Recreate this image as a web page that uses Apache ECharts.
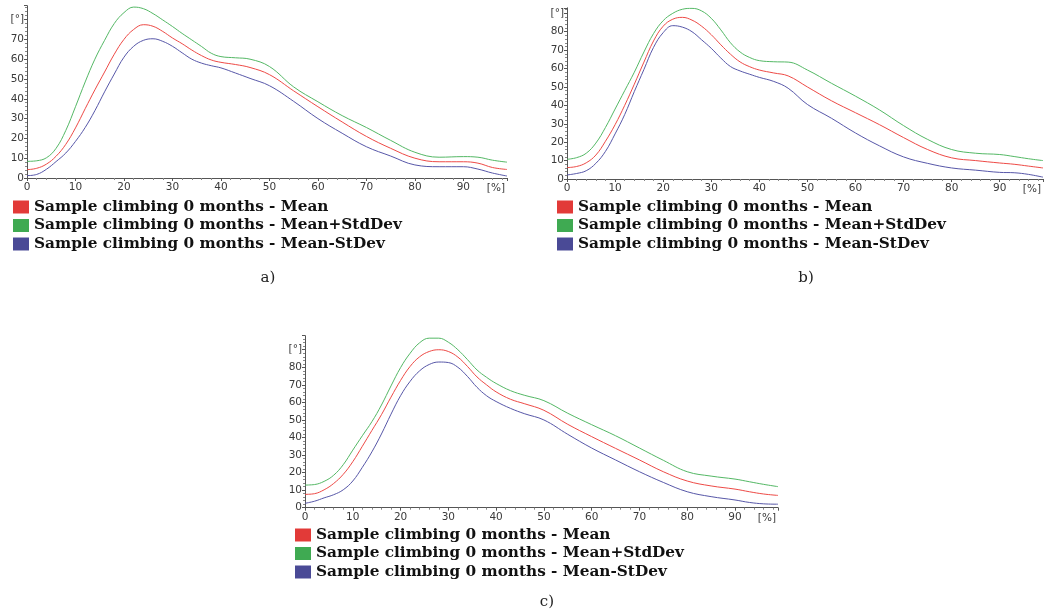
<!DOCTYPE html>
<html><head><meta charset="utf-8">
<script src="https://cdn.jsdelivr.net/npm/echarts@6/dist/echarts.min.js"></script>
<style>html,body{margin:0;padding:0;background:#fff}#c{width:1046px;height:615px}</style>
</head><body><div id="c"></div>
<script>
// shared percentage grid (x, [%])
const X = [0,2,4,6,8,10,12,14,16,18,20,22,24,26,28,30,32,34,36,38,40,43,46,50,55,60,65,70,75,80,85,90,93,96,99];
const seriesNames = ['Sample climbing 0 months - Mean','Sample climbing 0 months - Mean+StdDev','Sample climbing 0 months - Mean-StDev'];
const panelLabels = ['a)','b)','c)'];
const xTickLabels = ['0','10','20','30','40','50','60','70','80','90'];
const yTickLabelsA = ['0','10','20','30','40','50','60','70','[°]'];
const yTickLabelsB = ['0','10','20','30','40','50','60','70','80','[°]'];
const yTickLabelsC = ['0','10','20','30','40','50','60','70','80','[°]'];

// panel a
const meanA = [4.2,4.9,7,11,17,25.3,35,44.5,53.5,62.5,70,75,77.4,76.6,74,70.7,67.8,64.6,61.8,59.6,58.4,57.3,55.8,52.2,44,36,28.3,21,15,10,8.2,8.2,7.5,5.3,4.3];
const plusA = [8.4,8.7,10.2,15,24,36,48.5,60,69.5,78,83.5,86.3,85.5,83,79.8,76.5,73,69.7,66.4,63,61.3,60.7,60,56.3,46,38.5,31.5,25.5,19,13,10.5,10.8,10.5,9,8];
const minusA = [1.2,1.8,4.4,8.3,12.6,18.5,25.5,34,43.5,52.5,61,66.5,69.5,70.3,69,66.5,63.2,60,58,56.7,55.6,53,50.3,46.6,38.7,30,22.6,15.8,11.1,6.6,5.7,5.7,4.5,2.5,1];
// panel b
const meanB = [6.2,6.8,8.8,13,20.5,29.5,40,51.5,63.5,75,83,86.8,87.8,86.3,83,78.4,72.9,67.8,63.6,61,59.2,57.6,56,50,42.5,36,29.5,22.5,16,11.5,10,8.7,8,7,6];
const plusB = [10.7,11.6,14,19.5,28,38,48,58,69,79,86,90,92.2,92.7,91.3,87.3,81,74,69,66,64.3,63.7,63.5,59.2,52,45,37.5,29,21.5,16,14,13.3,12.2,11,10];
const minusB = [2.2,3,4.5,8.5,15,24.5,35,47.5,59.5,71.5,79.5,83.3,82.5,80,75.6,71,65.7,61.1,58.7,56.9,55.2,53,49.3,40.5,33,25,18,12,8.5,6,4.8,3.6,3.4,2.5,1];
// panel c
const meanC = [7.6,8,10.2,13.8,19,26.2,35,44,53,63,72.5,80.5,86,89,90,89,85.8,80.5,74.5,70,66,61.8,59.2,55.5,47.5,40.5,33.8,27.2,20.5,15.2,12.4,10.6,9.1,7.8,7];
const plusC = [12.9,13.2,15,18.5,24.5,32.8,41,49,58.5,69.4,79.8,88,94,96.6,96.6,94.3,90,84.4,78.5,74.3,70.8,66.7,64,61,53.8,47.3,41,34,27,20.5,18,16.3,14.8,13.3,12];
const minusC = [2.5,3.7,5.6,7.4,10.2,15.2,23,31.8,42,53.3,63.8,72,78,81.6,83,82.7,80,74.8,68.6,63.8,60.5,56.6,53.5,50,41.8,34,27.2,20.5,14.4,9.1,6.3,4.4,3,2.2,2];

const lineColors = ['#ee4a46','#54b865','#5757a8'];
const boxColors = ['#e23a38','#3faa52','#4a4a96'];

const panels = [
  {data:[meanA,plusA,minusA], yLabels:yTickLabelsA, yMax:87,
   grid:{left:27,top:5.7,width:480,height:172.3}, legend:{left:13,top:199}, cap:[268,280]},
  {data:[meanB,plusB,minusB], yLabels:yTickLabelsB, yMax:93,
   grid:{left:567,top:7.8,width:478,height:171.2}, legend:{left:557,top:199}, cap:[806,280]},
  {data:[meanC,plusC,minusC], yLabels:yTickLabelsC, yMax:98,
   grid:{left:305,top:335.7,width:473,height:172}, legend:{left:295,top:527}, cap:[547,604]}
];

const axisCol = '#555';
const labCol = '#3a3a3a';
const grids=[],xAxes=[],yAxes=[],series=[],legends=[],titles=[];
panels.forEach((p,i)=>{
  grids.push(p.grid);
  xAxes.push({type:'value',gridIndex:i,min:0,max:99,interval:10,
    axisLine:{show:true,onZero:false,lineStyle:{color:axisCol,width:1}},
    axisTick:{show:true,length:3,lineStyle:{color:axisCol}},
    minorTick:{show:true,splitNumber:5,length:2,lineStyle:{color:'#888'}},
    splitLine:{show:false},
    axisLabel:{margin:4,fontFamily:'DejaVu Sans',fontSize:10.5,color:labCol,
      formatter:v=>{const k=Math.round(v/10);return (v%10===0&&k<xTickLabels.length)?xTickLabels[k]:'';}},
    name:'[%]',nameLocation:'end',nameGap:-2,
    nameTextStyle:{fontFamily:'DejaVu Sans',fontSize:10.5,color:labCol,align:'right',verticalAlign:'top',padding:[5,0,0,0]}
  });
  yAxes.push({type:'value',gridIndex:i,min:0,max:p.yMax,interval:10,
    axisLine:{show:true,onZero:false,lineStyle:{color:axisCol,width:1}},
    axisTick:{show:true,length:3,lineStyle:{color:axisCol}},
    minorTick:{show:true,splitNumber:5,length:2,lineStyle:{color:'#888'}},
    splitLine:{show:false},
    axisLabel:{margin:3,fontFamily:'DejaVu Sans',fontSize:10.5,color:labCol,
      formatter:v=>{const k=Math.round(v/10);return (v%10===0&&k<p.yLabels.length)?p.yLabels[k]:'';}}
  });
  p.data.forEach((arr,j)=>{
    series.push({type:'line',name:seriesNames[j],xAxisIndex:i,yAxisIndex:i,
      data:X.map((x,k)=>[x,arr[k]]),smooth:0.4,showSymbol:false,symbol:'none',
      lineStyle:{color:lineColors[j],width:1},itemStyle:{color:lineColors[j]},z:3-j});
  });
  legends.push({left:p.legend.left,top:p.legend.top,orient:'vertical',selectedMode:false,padding:0,
    icon:'rect',itemWidth:16,itemHeight:13,itemGap:2.5,
    textStyle:{fontFamily:'DejaVu Serif',fontWeight:'bold',fontSize:15.3,color:'#111',lineHeight:16},
    data:seriesNames.map((n,j)=>({name:n,itemStyle:{color:boxColors[j]}}))});
  titles.push({text:panelLabels[i],left:p.cap[0],top:p.cap[1]-9,textAlign:'center',padding:0,
    textStyle:{fontFamily:'DejaVu Serif',fontWeight:'normal',fontSize:15,color:'#222'}});
});

const chart = echarts.init(document.getElementById('c'),null,{renderer:'canvas'});
chart.setOption({animation:false,backgroundColor:'#fff',title:titles,grid:grids,xAxis:xAxes,yAxis:yAxes,legend:legends,series:series});
</script></body></html>
